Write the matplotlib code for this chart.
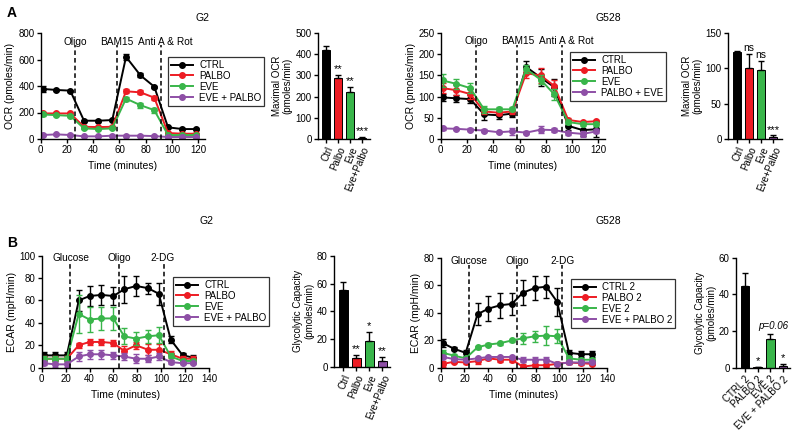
import matplotlib

matplotlib.use("Agg")

import matplotlib.pyplot as plt


# ==================================================
# DATA
# ==================================================

ocr_time = [1.5, 12, 22.5, 33, 44, 54.5, 65, 76, 86.5, 97, 108, 118.5]
ecar_time = [2, 11, 21, 31, 40, 50, 60, 69, 79, 89, 98, 108, 118, 127]

# panel A, G2 (OCR)
g2_ocr_labels = ["CTRL", "PALBO", "EVE", "EVE + PALBO"]
g2_ocr_ctrl = [378, 370, 365, 138, 138, 143, 620, 480, 395, 88, 75, 75]
g2_ocr_ctrl_err = [20, 8, 8, 8, 8, 8, 25, 15, 8, 5, 5, 5]
g2_ocr_palbo = [193, 193, 193, 92, 90, 92, 360, 352, 312, 45, 40, 40]
g2_ocr_palbo_err = [10, 8, 8, 8, 8, 8, 15, 15, 15, 5, 5, 5]
g2_ocr_eve = [185, 180, 175, 80, 75, 80, 305, 255, 218, 30, 30, 30]
g2_ocr_eve_err = [8, 8, 8, 8, 8, 8, 15, 20, 18, 5, 5, 5]
g2_ocr_combo = [30, 35, 30, 20, 20, 25, 25, 25, 22, 15, 15, 15]
g2_ocr_combo_err = [5, 5, 5, 5, 5, 5, 5, 5, 5, 5, 5, 5]

# panel A, G528 (OCR)
g528_ocr_labels = ["CTRL", "PALBO", "EVE", "PALBO + EVE"]
g528_ocr_ctrl = [98, 96, 94, 58, 56, 60, 170, 145, 122, 31, 21, 23]
g528_ocr_ctrl_err = [8, 8, 10, 13, 10, 8, 15, 20, 20, 10, 15, 18]
g528_ocr_palbo = [120, 115, 106, 65, 62, 65, 155, 150, 125, 45, 40, 42]
g528_ocr_palbo_err = [12, 12, 12, 5, 5, 5, 12, 18, 15, 5, 3, 3]
g528_ocr_eve = [138, 130, 120, 70, 70, 70, 165, 140, 105, 40, 35, 35]
g528_ocr_eve_err = [15, 12, 12, 8, 5, 5, 10, 10, 12, 5, 5, 5]
g528_ocr_combo = [25, 24, 22, 20, 16, 18, 15, 22, 21, 15, 12, 18]
g528_ocr_combo_err = [3, 3, 3, 3, 3, 8, 3, 8, 5, 5, 8, 5]

# panel B, G2 (ECAR)
g2_ecar_labels = ["CTRL", "PALBO", "EVE", "EVE + PALBO"]
g2_ecar_ctrl = [11, 11, 11, 60, 64, 65, 64, 70, 73, 71, 66, 25, 11, 9]
g2_ecar_ctrl_err = [3, 3, 3, 9, 9, 9, 8, 12, 9, 5, 10, 3, 2, 2]
g2_ecar_palbo = [8, 8, 8, 20, 23, 23, 22, 15, 20, 16, 16, 12, 8, 8]
g2_ecar_palbo_err = [2, 2, 2, 2, 3, 3, 3, 4, 3, 5, 5, 3, 2, 2]
g2_ecar_eve = [8, 8, 8, 48, 43, 44, 44, 28, 26, 28, 29, 10, 6, 6]
g2_ecar_eve_err = [2, 2, 2, 17, 11, 10, 10, 7, 6, 6, 7, 3, 2, 2]
g2_ecar_combo = [4, 3, 3, 10, 12, 12, 11, 10, 8, 8, 10, 5, 4, 4]
g2_ecar_combo_err = [2, 2, 2, 4, 4, 4, 3, 3, 4, 3, 3, 2, 1, 1]

# panel B, G528 (ECAR)
g528_ecar_labels = ["CTRL 2", "PALBO 2", "EVE 2", "EVE + PALBO 2"]
g528_ecar_ctrl = [18, 14, 11, 39, 43, 45.5, 46.5, 54.5, 58, 59, 48, 11, 10, 10]
g528_ecar_ctrl_err = [3, 1, 2, 8, 9, 9, 8, 9, 9, 8, 10, 2, 2, 2]
g528_ecar_palbo = [3, 4.5, 4, 5, 7, 6, 6, 1, 2, 2, 3, 4, 3.5, 3]
g528_ecar_palbo_err = [2, 1, 1, 2, 1, 2, 2, 2, 1, 1, 1, 1, 1, 1]
g528_ecar_eve = [11, 9, 7, 15, 17, 18, 20, 21.5, 23, 23.5, 23, 7, 6, 6]
g528_ecar_eve_err = [2, 1, 1, 1, 1, 1, 1, 4, 4, 7, 5, 1, 1, 1]
g528_ecar_combo = [8, 6.5, 6, 7, 8, 8, 8, 6, 6, 6, 3, 4, 4, 4]
g528_ecar_combo_err = [1, 1, 1, 1, 1, 1, 1, 2, 2, 2, 1, 1, 1, 1]

# injections: (line x, label x, label)
g2_ocr_injections = [(26.5, 26.1, "Oligo"), (57.8, 58, "BAM15"),
                     (92, 95, "Anti A & Rot")]
g528_ocr_injections = [(26.5, 26.9, "Oligo"), (57.8, 58.9, "BAM15"),
                       (92, 95.4, "Anti A & Rot")]
g2_ecar_injections = [(24, 24.2, "Glucose"), (64.5, 64.5, "Oligo"),
                      (102, 100.8, "2-DG")]
g528_ecar_injections = [(24, 23.8, "Glucose"), (64.5, 64.7, "Oligo"),
                        (102, 102.6, "2-DG")]

# summary bars
bar_labels = ["Ctrl", "Palbo", "Eve", "Eve+Palbo"]
g528_bar_labels = ["CTRL 2", "PALBO 2", "EVE 2", "EVE + PALBO 2"]

g2_max_ocr = [420, 290, 222, 5]
g2_max_ocr_err = [20, 12, 22, 3]
g2_max_ocr_sig = ["", "**", "**", "***"]

g528_max_ocr = [123, 100, 98, 3]
g528_max_ocr_err = [2, 20, 13, 2]
g528_max_ocr_sig = ["", "ns", "ns", "***"]

g2_glyc = [55, 6.5, 19, 4.5]
g2_glyc_err = [6, 2, 6, 3]
g2_glyc_sig = ["", "**", "*", "**"]

g528_glyc = [44.5, 0.3, 16, 1]
g528_glyc_err = [7, 0.3, 2.5, 1]
g528_glyc_sig = ["", "*", "p=0.06", "*"]


# ==================================================
# STYLE
# ==================================================

W, H = 800, 437

COLORS = ["#000000", "#ed1c24", "#39b54a", "#8e4fa6"]

plt.rcParams["font.family"] = ["Liberation Sans", "DejaVu Sans"]
plt.rcParams["font.size"] = 7


def _px_axes(fig, x0, y0, x1, y1):
    """Axes from pixel box (left, top, right, bottom)."""
    return fig.add_axes([x0 / W, 1 - y1 / H, (x1 - x0) / W, (y1 - y0) / H])


def _style_axes(ax):
    ax.spines["top"].set_visible(False)
    ax.spines["right"].set_visible(False)
    ax.spines["left"].set_linewidth(1.0)
    ax.spines["bottom"].set_linewidth(1.0)
    ax.tick_params(axis="both", labelsize=7, length=3, width=1.0, pad=1.5)


# ==================================================
# TIME COURSE
# ==================================================

def draw_time_course(ax, fig, times, series, errors, labels, injections,
                     xlim, xticks, ylim, yticks, ylabel, line_top, text_y,
                     legend_xy):

    for vals, errs, color, lab in zip(series, errors, COLORS, labels):

        ax.errorbar(
            times, vals, yerr=errs,
            fmt="none", ecolor=color, elinewidth=1.0,
            capsize=2.5, capthick=1.0
        )

        ax.plot(
            times, vals,
            color=color, linewidth=1.4,
            marker="o", markersize=4,
            label=lab
        )

    for x, tx, name in injections:

        ax.plot(
            [x, x], [0, line_top],
            color="black", linestyle=(0, (3, 2)), linewidth=1.1,
            clip_on=False
        )

        ax.text(
            tx, text_y, name,
            ha="center", va="center", fontsize=7.3
        )

    ax.set_xlim(*xlim)
    ax.set_xticks(xticks)
    ax.set_ylim(*ylim)
    ax.set_yticks(yticks)
    ax.set_xlabel("Time (minutes)", fontsize=7.5, labelpad=4)
    ax.set_ylabel(ylabel, fontsize=7.5, labelpad=2)

    _style_axes(ax)

    leg = ax.legend(
        loc="upper left",
        bbox_to_anchor=(legend_xy[0] / W, 1 - legend_xy[1] / H),
        bbox_transform=fig.transFigure,
        fontsize=7,
        frameon=True, fancybox=False,
        edgecolor="black",
        handlelength=2.3, handletextpad=0.6,
        labelspacing=0.1, borderpad=0.3, borderaxespad=0
    )

    leg.get_frame().set_linewidth(0.9)


# ==================================================
# SUMMARY BARS
# ==================================================

def draw_bars(ax, values, errors, sig, labels, xlim, ylim, yticks, ylabel,
              rotation, sig_pad):

    pos = list(range(len(values)))

    ax.bar(
        pos, values, width=0.68,
        color=COLORS, edgecolor="black", linewidth=0.7,
        yerr=[[0] * len(errors), errors],
        error_kw=dict(ecolor="black", elinewidth=1.0, capsize=2.5, capthick=1.0)
    )

    for p, v, e, s in zip(pos, values, errors, sig):

        if not s:
            continue

        if s.startswith("p="):
            ax.text(p + 0.2, v + e + sig_pad * 0.6, s, ha="center",
                    va="bottom", fontsize=7, style="italic")
        else:
            ax.text(p, v + e + sig_pad * 0.2, s, ha="center", va="bottom",
                    fontsize=8 if "*" in s else 7.5)

    ax.set_xlim(*xlim)
    ax.set_xticks(pos)
    ax.set_xticklabels(
        labels, rotation=rotation, ha="right",
        rotation_mode="anchor", fontsize=7
    )
    ax.set_ylim(*ylim)
    ax.set_yticks(yticks)
    ax.set_ylabel(ylabel, fontsize=7, labelpad=2, linespacing=1.1)

    _style_axes(ax)


# ==================================================
# FIGURE
# ==================================================

fig = plt.figure(figsize=(W / 100, H / 100), dpi=100)

# ---- A, G2
ax = _px_axes(fig, 40.7, 33, 204.8, 139)
draw_time_course(
    ax, fig, ocr_time,
    [g2_ocr_ctrl, g2_ocr_palbo, g2_ocr_eve, g2_ocr_combo],
    [g2_ocr_ctrl_err, g2_ocr_palbo_err, g2_ocr_eve_err, g2_ocr_combo_err],
    g2_ocr_labels, g2_ocr_injections,
    (0, 125), range(0, 121, 20), (0, 800), range(0, 801, 200),
    "OCR (pmoles/min)", 710, 735, (168, 57)
)

ax = _px_axes(fig, 318, 33, 370, 139)
draw_bars(
    ax, g2_max_ocr, g2_max_ocr_err, g2_max_ocr_sig, bar_labels,
    (-0.67, 3.67), (0, 500), range(0, 501, 100),
    "Maximal OCR\n(pmoles/min)", 68, 20
)

# ---- A, G528
ax = _px_axes(fig, 440.7, 33, 605, 139)
draw_time_course(
    ax, fig, ocr_time,
    [g528_ocr_ctrl, g528_ocr_palbo, g528_ocr_eve, g528_ocr_combo],
    [g528_ocr_ctrl_err, g528_ocr_palbo_err, g528_ocr_eve_err, g528_ocr_combo_err],
    g528_ocr_labels, g528_ocr_injections,
    (0, 125), range(0, 121, 20), (0, 250), range(0, 251, 50),
    "OCR (pmoles/min)", 222, 230, (570, 52)
)

ax = _px_axes(fig, 728, 33, 782, 139)
draw_bars(
    ax, g528_max_ocr, g528_max_ocr_err, g528_max_ocr_sig, bar_labels,
    (-0.75, 3.75), (0, 150), range(0, 151, 50),
    "Maximal OCR\n(pmoles/min)", 68, 6
)

# ---- B, G2
ax = _px_axes(fig, 41.7, 255.7, 209, 367.7)
draw_time_course(
    ax, fig, ecar_time,
    [g2_ecar_ctrl, g2_ecar_palbo, g2_ecar_eve, g2_ecar_combo],
    [g2_ecar_ctrl_err, g2_ecar_palbo_err, g2_ecar_eve_err, g2_ecar_combo_err],
    g2_ecar_labels, g2_ecar_injections,
    (0, 140), range(0, 141, 20), (0, 100), range(0, 101, 20),
    "ECAR (mpH/min)", 93.5, 97.5, (173, 277)
)

ax = _px_axes(fig, 334, 255.7, 390, 367)
draw_bars(
    ax, g2_glyc, g2_glyc_err, g2_glyc_sig, bar_labels,
    (-0.7, 3.6), (0, 80), range(0, 81, 20),
    "Glycolytic Capacity\n(pmoles/min)", 68, 3
)

# ---- B, G528
ax = _px_axes(fig, 440.7, 257.7, 607, 368)
draw_time_course(
    ax, fig, ecar_time,
    [g528_ecar_ctrl, g528_ecar_palbo, g528_ecar_eve, g528_ecar_combo],
    [g528_ecar_ctrl_err, g528_ecar_palbo_err, g528_ecar_eve_err, g528_ecar_combo_err],
    g528_ecar_labels, g528_ecar_injections,
    (0, 140), range(0, 141, 20), (0, 80), range(0, 81, 20),
    "ECAR (mpH/min)", 74.5, 77.5, (571, 279)
)

ax = _px_axes(fig, 736, 257.7, 790, 368)
draw_bars(
    ax, g528_glyc, g528_glyc_err, g528_glyc_sig, g528_bar_labels,
    (-0.7, 3.55), (0, 60), range(0, 61, 20),
    "Glycolytic Capacity\n(pmoles/min)", 45, 3
)

# ---- titles and panel letters
fig.text(203 / W, 1 - 18 / H, "G2", ha="center", va="center", fontsize=7.5)
fig.text(608 / W, 1 - 18 / H, "G528", ha="center", va="center", fontsize=7.5)
fig.text(206 / W, 1 - 221 / H, "G2", ha="center", va="center", fontsize=7.5)
fig.text(608 / W, 1 - 221 / H, "G528", ha="center", va="center", fontsize=7.5)

fig.text(12 / W, 1 - 13 / H, "A", ha="center", va="center",
         fontsize=10, fontweight="bold")
fig.text(12 / W, 1 - 243 / H, "B", ha="center", va="center",
         fontsize=10, fontweight="bold")

fig.savefig("out.png", dpi=100)
plt.close(fig)
